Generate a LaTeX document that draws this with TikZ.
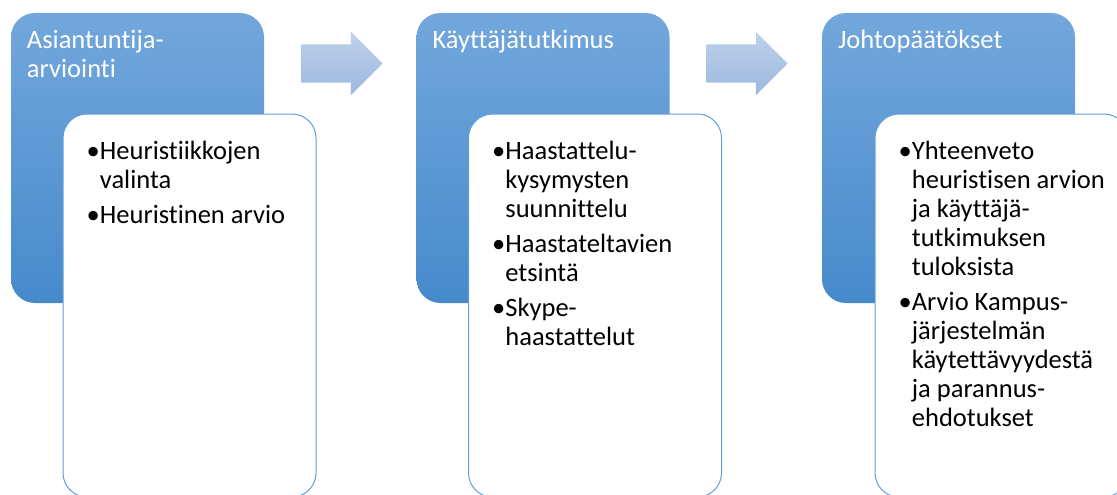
\documentclass[tikz,border=0pt]{standalone}
\usepackage{fontspec}
\setmainfont{Carlito}[Ligatures=NoCommon]
\usepackage{xcolor}
\usepackage{tikz}
\usetikzlibrary{positioning,shapes.arrows}

\definecolor{stageTop}{RGB}{115,167,220}
\definecolor{stageBot}{RGB}{70,138,203}
\definecolor{arrowTop}{RGB}{190,209,235}
\definecolor{arrowBot}{RGB}{156,184,222}
\definecolor{cardLine}{RGB}{98,158,218}

\begin{document}
\begin{tikzpicture}[
  x=1pt, y=-1pt,
  every node/.style={font=\fontsize{26.5}{29}\selectfont},
  stage/.style={shade, top color=stageTop, bottom color=stageBot, rounded corners=24pt, minimum width=253pt, minimum height=290pt, inner sep=0pt},
  card/.style={draw=cardLine, line width=1pt, fill=white, rounded corners=24pt, minimum width=253pt, minimum height=383pt, inner sep=0pt},
  title/.style={text=white, align=left, inner sep=0pt},
  items/.style={inner sep=0pt},
  flow/.style={single arrow, shade, top color=arrowTop, bottom color=arrowBot, minimum height=81pt, single arrow head extend=12.5pt, single arrow tip angle=90, inner xsep=0pt, inner ysep=19pt},
]
\useasboundingbox (0,0) rectangle (1117,495);
\clip (0,0) rectangle (1117,495);
% stage 1
\node[stage] (b1) at (137.5,158) {};
\node[title, below right=17pt and 16pt of b1.north west] (t1) {Asiantuntija-\\arviointi};
\node[card] (w1) at (189.5,305.5) {};
\node[items, below right=25pt and 24pt of w1.north west] (l1) {\begin{tabular}{@{}l@{}l@{}}
\textbullet & Heuristiikkojen\\
 & valinta\\[6pt]
\textbullet & Heuristinen arvio
\end{tabular}};
\node[flow] (a1) at (332.5,63.5) {};
% stage 2
\node[stage] (b2) at (543,158) {};
\node[title, below right=17pt and 16pt of b2.north west] (t2) {Käyttäjätutkimus};
\node[card] (w2) at (595,305.5) {};
\node[items, below right=25pt and 24pt of w2.north west] (l2) {\begin{tabular}{@{}l@{}l@{}}
\textbullet & Haastattelu-\\
 & kysymysten\\
 & suunnittelu\\[6pt]
\textbullet & Haastateltavien\\
 & etsintä\\[6pt]
\textbullet & Skype-\\
 & haastattelut
\end{tabular}};
\node[flow] (a2) at (737.5,63.5) {};
% stage 3
\node[stage] (b3) at (948.5,158) {};
\node[title, below right=17pt and 16pt of b3.north west] (t3) {Johtopäätökset};
\node[card] (w3) at (1001.5,305.5) {};
\node[items, below right=25pt and 24pt of w3.north west] (l3) {\begin{tabular}{@{}l@{}l@{}}
\textbullet & Yhteenveto\\
 & heuristisen arvion\\
 & ja käyttäjä-\\
 & tutkimuksen\\
 & tuloksista\\[6pt]
\textbullet & Arvio Kampus-\\
 & järjestelmän\\
 & käytettävyydestä\\
 & ja parannus-\\
 & ehdotukset
\end{tabular}};
\end{tikzpicture}
\end{document}
